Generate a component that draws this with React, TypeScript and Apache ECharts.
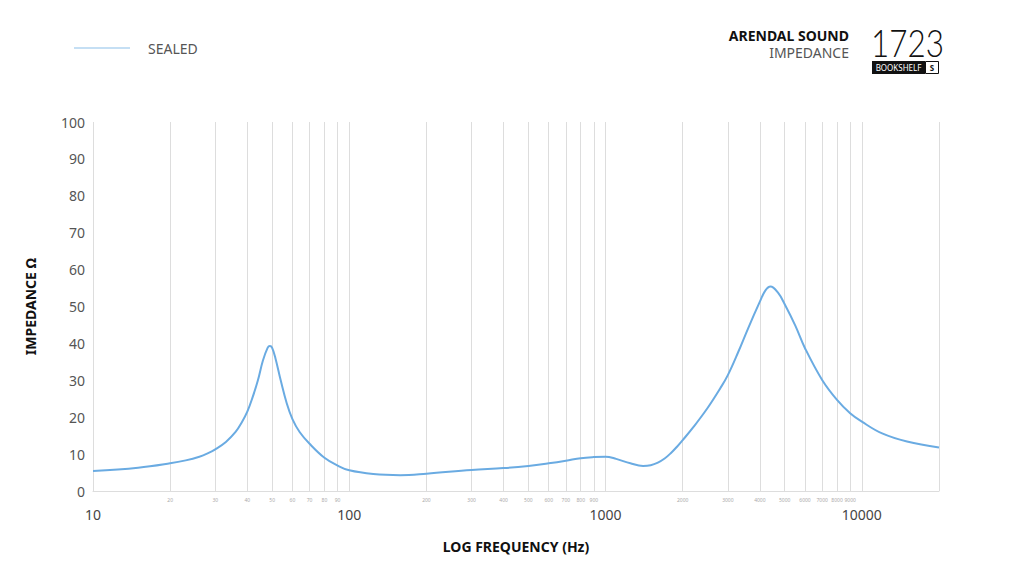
import React, { useEffect, useRef } from "react";
import * as echarts from "echarts";

const frequencies = [
  10, 15, 20, 23, 26, 28, 30, 33, 36, 38, 40, 42, 44, 46, 48, 49, 50, 51.5,
  54, 57, 60, 64, 70, 80, 90, 100, 124, 158, 200, 300, 400, 500, 600, 700,
  800, 900, 1000, 1100, 1250, 1400, 1500, 1600, 1700, 1800, 1900, 2000, 2200,
  2500, 2800, 3000, 3300, 3600, 4000, 4200, 4400, 4700, 5000, 5500, 6000,
  7000, 8000, 9000, 10000, 12000, 15000, 20000,
];
const impedance = [
  5.4, 6.3, 7.5, 8.3, 9.3, 10.2, 11.3, 13.3, 16.0, 18.5, 21.5, 25.5, 30.0,
  35.3, 38.8, 39.3, 38.8, 36.0, 30.0, 23.8, 19.5, 16.0, 12.8, 9.0, 6.9, 5.6,
  4.6, 4.3, 4.7, 5.7, 6.2, 6.8, 7.5, 8.2, 8.9, 9.2, 9.3, 8.7, 7.5, 6.8, 7.0,
  7.7, 8.8, 10.3, 12.0, 13.8, 17.3, 22.5, 27.8, 31.4, 37.8, 44.1, 51.3, 54.3,
  55.4, 53.8, 50.6, 44.8, 38.7, 30.1, 24.7, 21.1, 18.8, 15.6, 13.4, 11.8,
];
const gridFrequencies = [
  10, 20, 30, 40, 50, 60, 70, 80, 90, 100, 200, 300, 400, 500, 600, 700, 800,
  900, 1000, 2000, 3000, 4000, 5000, 6000, 7000, 8000, 9000, 10000, 20000,
];
const minorLabels = [
  20, 30, 40, 50, 60, 70, 80, 90, 200, 300, 400, 500, 600, 700, 800, 900,
  2000, 3000, 4000, 5000, 6000, 7000, 8000, 9000,
];
const majorLabels = [10, 100, 1000, 10000];
const seriesName = "SEALED";
const FONT = "'Noto Sans', sans-serif";
const LINE_COLOR = "#6aabe2";

export default function App() {
  const ref = useRef<HTMLDivElement>(null);
  useEffect(() => {
    document.body.style.margin = "0";
    if (!ref.current) return;
    const chart = echarts.init(ref.current, undefined, { renderer: "svg" });
    const data = frequencies.map((f, i) => [f, impedance[i]]);
    chart.setOption({
      animation: false,
      backgroundColor: "#ffffff",
      textStyle: { fontFamily: FONT },
      grid: { left: 93, right: 85, top: 122, bottom: 86 },
      legend: {
        left: 74,
        top: 41,
        padding: 0,
        icon: "rect",
        itemWidth: 56,
        itemHeight: 1,
        data: [seriesName],
        itemStyle: { color: "#8cc0ea" },
        textStyle: {
          fontFamily: FONT,
          fontSize: 14,
          color: "#555",
          padding: [0, 0, 0, 13],
        },
      },
      xAxis: [
        {
          type: "log",
          logBase: 10,
          min: 10,
          max: 20000,
          position: "bottom",
          axisLine: { show: true, lineStyle: { color: "#dddddd", width: 1 } },
          axisTick: { show: false, customValues: gridFrequencies },
          splitLine: { show: true, lineStyle: { color: "#dddddd", width: 1 } },
          axisLabel: {
            customValues: minorLabels,
            formatter: (v: number) => String(v),
            fontSize: 5,
            color: "#aaa",
            margin: 6,
            fontFamily: FONT,
          },
          name: "LOG FREQUENCY (Hz)",
          nameLocation: "middle",
          nameGap: 48,
          nameTextStyle: {
            fontFamily: FONT,
            fontSize: 14,
            fontWeight: "bold",
            color: "#111",
          },
        },
        {
          type: "log",
          logBase: 10,
          min: 10,
          max: 20000,
          position: "bottom",
          offset: 0,
          axisLine: { show: false },
          axisTick: { show: false },
          splitLine: { show: false },
          axisLabel: {
            customValues: majorLabels,
            formatter: (v: number) => String(v),
            fontSize: 14,
            color: "#444",
            margin: 16,
            fontFamily: FONT,
          },
        },
      ],
      yAxis: {
        type: "value",
        min: 0,
        max: 100,
        interval: 10,
        axisLine: { show: false },
        axisTick: { show: false },
        splitLine: { show: false },
        axisLabel: { fontSize: 14, color: "#555", margin: 8, fontFamily: FONT },
        name: "IMPEDANCE Ω",
        nameLocation: "middle",
        nameGap: 56,
        nameTextStyle: {
          fontFamily: FONT,
          fontSize: 14,
          fontWeight: "bold",
          color: "#111",
        },
      },
      series: [
        {
          name: seriesName,
          type: "line",
          xAxisIndex: 0,
          data,
          smooth: 0.4,
          showSymbol: false,
          symbol: "none",
          lineStyle: { color: LINE_COLOR, width: 2 },
          itemStyle: { color: LINE_COLOR },
        },
      ],
      graphic: [
        {
          type: "text",
          right: 1024 - 849,
          top: 28,
          style: {
            text: "ARENDAL SOUND",
            font: `bold 14px ${FONT}`,
            fill: "#111",
            textAlign: "right",
          },
        },
        {
          type: "text",
          right: 1024 - 849,
          top: 45,
          style: {
            text: "IMPEDANCE",
            font: `14px ${FONT}`,
            fill: "#555",
            textAlign: "right",
          },
        },
        {
          type: "text",
          x: 871,
          y: 42,
          scaleX: 0.85,
          style: {
            text: "1723",
            font: `300 37px 'Lato', sans-serif`,
            fill: "#111",
            textVerticalAlign: "middle",
          },
        },
        {
          type: "rect",
          shape: { x: 872, y: 61, width: 53, height: 13 },
          style: { fill: "#111" },
        },
        {
          type: "text",
          x: 898.5,
          y: 67.5,
          style: {
            text: "BOOKSHELF",
            font: `8px ${FONT}`,
            fill: "#fff",
            textAlign: "center",
            textVerticalAlign: "middle",
          },
        },
        {
          type: "rect",
          shape: { x: 925.5, y: 61.5, width: 13, height: 12 },
          style: { fill: "#fff", stroke: "#111", lineWidth: 1 },
        },
        {
          type: "text",
          x: 932,
          y: 67.5,
          style: {
            text: "S",
            font: `bold 8px ${FONT}`,
            fill: "#111",
            textAlign: "center",
            textVerticalAlign: "middle",
          },
        },
      ],
    });
    return () => chart.dispose();
  }, []);
  return <div ref={ref} style={{ width: 1024, height: 577 }} />;
}
